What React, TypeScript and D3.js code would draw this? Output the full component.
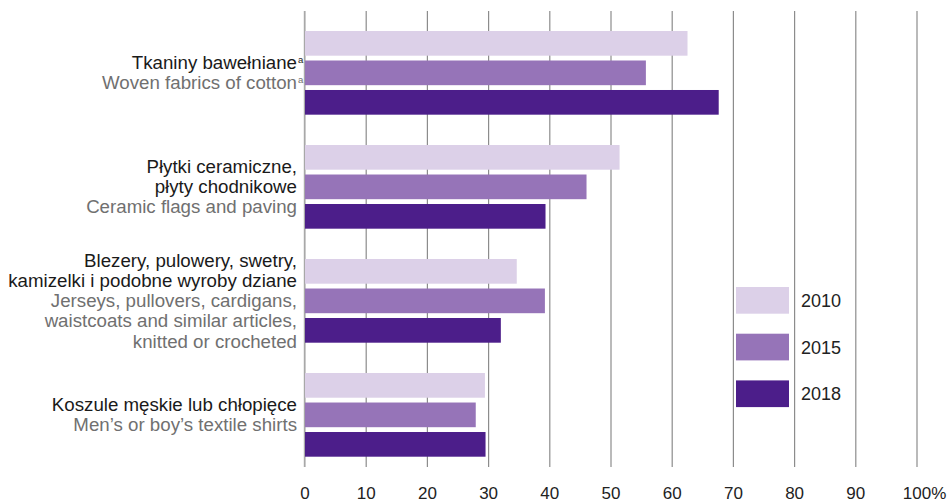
import React from "react";
import * as d3 from "d3";

const categories = ["cotton", "ceramic", "jerseys", "shirts"];
const labelsPL: string[][] = [
  ["Tkaniny bawełniane"],
  ["Płytki ceramiczne,", "płyty chodnikowe"],
  ["Blezery, pulowery, swetry,", "kamizelki i podobne wyroby dziane"],
  ["Koszule męskie lub chłopięce"],
];
const labelsEN: string[][] = [
  ["Woven fabrics of cotton"],
  ["Ceramic flags and paving"],
  ["Jerseys, pullovers, cardigans,", "waistcoats and similar articles,", "knitted or crocheted"],
  ["Men’s or boy’s textile shirts"],
];
const footnoted = [true, false, false, false];
const years = ["2010", "2015", "2018"];
const values2010 = [62.5, 51.4, 34.6, 29.4];
const values2015 = [55.7, 46.0, 39.2, 27.9];
const values2018 = [67.6, 39.3, 32.0, 29.5];
const tickValues = [0, 10, 20, 30, 40, 50, 60, 70, 80, 90, 100];
const colors = ["#dcd0e8", "#9674b8", "#4c1e8a"];

const FONT = "'Liberation Sans', Arial, Helvetica, sans-serif";

export default function App() {
  const W = 950;
  const H = 501;
  const series = [values2010, values2015, values2018];
  const x = d3.scaleLinear().domain([0, 100]).range([305, 917]);
  const y = d3
    .scaleBand<string>()
    .domain(categories)
    .range([31, 456.7])
    .paddingInner(0.266)
    .paddingOuter(0);
  const yInner = d3
    .scaleBand<string>()
    .domain(years)
    .range([0, y.bandwidth()])
    .paddingInner(0.163);
  const gridTop = 11;
  const gridBottom = 467;
  const lineH = 20.2;

  return (
    <svg
      width={W}
      height={H}
      style={{ position: "absolute", left: 0, top: 0, background: "#fff" }}
      fontFamily={FONT}
    >
      {tickValues.map((t) => (
        <line
          key={"g" + t}
          x1={x(t)}
          x2={x(t)}
          y1={gridTop}
          y2={gridBottom}
          stroke={t === 0 ? "#a8a8a8" : "#8c8c8c"}
          strokeWidth={1.2}
        />
      ))}
      {categories.map((c, ci) =>
        years.map((yr, si) => (
          <rect
            key={c + yr}
            x={x(0)}
            y={(y(c) as number) + (yInner(yr) as number)}
            width={x(series[si][ci]) - x(0)}
            height={yInner.bandwidth()}
            fill={colors[si]}
          />
        ))
      )}
      <line x1={x(0) - 0.6} x2={x(0) - 0.6} y1={gridTop} y2={gridBottom} stroke="#a8a8a8" strokeWidth={1.2} />
      {categories.map((c, ci) => {
        const lines = [
          ...labelsPL[ci].map((t) => ({ t, pl: true })),
          ...labelsEN[ci].map((t) => ({ t, pl: false })),
        ];
        const n = lines.length;
        const center = (y(c) as number) + y.bandwidth() / 2;
        return lines.map((l, i) => {
          const by = center + (i - (n - 1) / 2) * lineH + 6.4;
          return (
            <g key={c + i}>
              <text
                x={297}
                y={by}
                textAnchor="end"
                fontSize={18.7}
                fill={l.pl ? "#1a1a1a" : "#707070"}
              >
                {l.t}
              </text>
              {footnoted[ci] && (
                <text x={298} y={by - 6.5} fontSize={9.5} fill={l.pl ? "#1a1a1a" : "#707070"}>
                  a
                </text>
              )}
            </g>
          );
        });
      })}
      {tickValues.map((t) => (
        <g key={"t" + t}>
          <text x={x(t)} y={498.5} textAnchor="middle" fontSize={17} fill="#222">
            {t}
          </text>
          {t === 100 && (
            <text x={x(t) + 14.2} y={498.5} fontSize={17} fill="#222">
              %
            </text>
          )}
        </g>
      ))}
      {years.map((yr, i) => (
        <g key={"l" + yr}>
          <rect x={736} y={287 + i * 46.7} width={53} height={26.7} fill={colors[i]} />
          <text x={801} y={307 + i * 46.7} fontSize={18} fill="#222">
            {yr}
          </text>
        </g>
      ))}
    </svg>
  );
}
